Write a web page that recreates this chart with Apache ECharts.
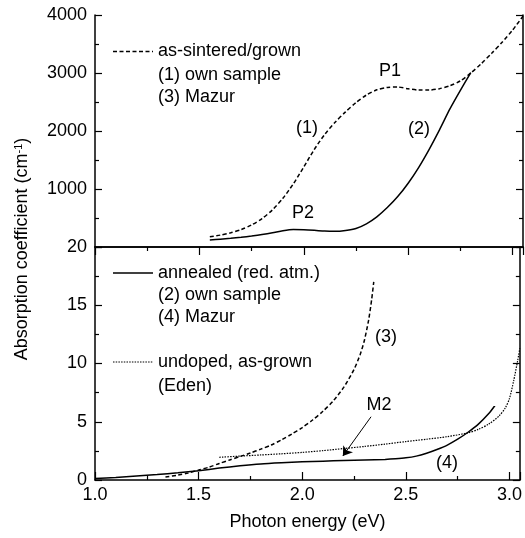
<!DOCTYPE html>
<html>
<head>
<meta charset="utf-8">
<script src="https://cdn.jsdelivr.net/npm/echarts@6.0.0/dist/echarts.min.js"></script>
<style>
  html, body { margin: 0; padding: 0; background: #fff; }
  #chart { width: 525px; height: 538px; }
</style>
</head>
<body>
<div id="chart"></div>
<script>
// photon energy (eV) / absorption coefficient
var ownSintered = [[1.55,177],[1.6,205],[1.65,245],[1.7,300],[1.75,380],[1.8,490],[1.85,640],
  [1.9,840],[1.95,1090],[2.0,1380],[2.05,1680],[2.1,1940],[2.15,2150],[2.2,2330],[2.25,2490],
  [2.3,2620],[2.35,2710],[2.4,2750],[2.45,2758],[2.5,2728],[2.55,2706],[2.6,2705],[2.65,2730],
  [2.7,2780],[2.75,2864],[2.8,3000],[2.85,3160],[2.9,3340],[2.95,3530],[3.0,3740],[3.05,3980]];
var ownAnnealed = [[1.55,120],[1.6,135],[1.65,150],[1.7,168],[1.75,190],[1.8,215],[1.85,245],
  [1.9,280],[1.95,300],[2.0,298],[2.05,288],[2.1,274],[2.15,270],[2.2,285],[2.25,320],[2.3,400],
  [2.35,520],[2.4,680],[2.45,870],[2.5,1100],[2.55,1370],[2.6,1680],[2.65,2020],[2.7,2380],
  [2.75,2700],[2.8,3006]];
var mazurGrown = [[1.34,0.25],[1.4,0.42],[1.45,0.6],[1.5,0.85],[1.55,1.1],[1.6,1.42],[1.65,1.72],
  [1.7,2.02],[1.75,2.32],[1.8,2.65],[1.85,3.0],[1.9,3.45],[1.95,3.95],[2.0,4.5],[2.05,5.15],
  [2.1,5.9],[2.15,6.8],[2.2,7.95],[2.25,9.5],[2.28,10.8],[2.3,12.0],[2.32,13.7],[2.335,15.5],[2.345,17.0]];
var mazurAnnealed = [[1.0,0.12],[1.1,0.22],[1.2,0.34],[1.3,0.47],[1.4,0.62],[1.5,0.8],[1.6,1.02],
  [1.7,1.22],[1.8,1.38],[1.9,1.48],[2.0,1.56],[2.1,1.62],[2.2,1.67],[2.3,1.72],[2.4,1.77],
  [2.45,1.82],[2.5,1.9],[2.55,2.05],[2.6,2.3],[2.65,2.62],[2.7,3.0],[2.75,3.5],[2.8,4.1],
  [2.85,4.8],[2.9,5.7],[2.93,6.4]];
var edenUndoped = [[1.6,1.95],[1.7,2.05],[1.8,2.15],[1.9,2.25],[2.0,2.37],[2.1,2.52],[2.2,2.7],
  [2.3,2.88],[2.4,3.08],[2.5,3.3],[2.6,3.5],[2.7,3.72],[2.8,4.05],[2.85,4.35],[2.9,4.8],
  [2.95,5.5],[2.98,6.2],[3.0,7.0],[3.02,8.5],[3.04,10.3],[3.05,11.3]];
var m2Arrow = [[2.332,5.43],[2.196,2.06]];

var FONT = 'Liberation Sans, Arial, Helvetica, sans-serif';

function xAxisBase(grid, pos) {
  return {
    type: 'value', gridIndex: grid, position: pos, min: 1.0, max: 3.05, interval: 0.5,
    axisLine: { show: true, lineStyle: { color: '#000', width: 1.5 } },
    axisTick: { show: true, inside: true, length: 8, lineStyle: { color: '#000', width: 1.2 } },
    minorTick: { show: true, splitNumber: 2, length: 4, lineStyle: { color: '#000', width: 1.2 } },
    axisLabel: { show: false },
    splitLine: { show: false }
  };
}

function yAxisBase(grid, pos, max, step) {
  return {
    type: 'value', gridIndex: grid, position: pos, min: 0, max: max, interval: step,
    axisLine: { show: true, lineStyle: { color: '#000', width: 1.5 } },
    axisTick: { show: true, inside: true, length: 7, lineStyle: { color: '#000', width: 1.2 } },
    minorTick: { show: true, splitNumber: 2, length: 4, lineStyle: { color: '#000', width: 1.2 } },
    axisLabel: { show: false },
    splitLine: { show: false }
  };
}

function txt(x, y, s, align) {
  return {
    type: 'text', x: x, y: y, silent: true,
    style: { text: s, fill: '#000', font: '18px ' + FONT, textAlign: align || 'left', textVerticalAlign: 'middle' }
  };
}

function legLine(y, dash, w) {
  return {
    type: 'line', silent: true,
    shape: { x1: 113, y1: y, x2: 153, y2: y },
    style: { stroke: '#000', lineWidth: w, lineDash: dash }
  };
}

function plain(v) { return String(v); }

var chart = echarts.init(document.getElementById('chart'));

var xTopBottom = xAxisBase(0, 'bottom');
xTopBottom.axisTick = { show: false };
xTopBottom.minorTick = { show: false };
var xTopTop = xAxisBase(0, 'top');
var xBottom = xAxisBase(1, 'bottom');
xBottom.axisLabel = {
  show: true, color: '#000', fontSize: 18, fontFamily: FONT, margin: 6, showMaxLabel: false,
  formatter: function (v) { return v.toFixed(1); }
};
xBottom.name = 'Photon energy (eV)';
xBottom.nameLocation = 'middle';
xBottom.nameGap = 33;
xBottom.nameTextStyle = { color: '#000', fontSize: 18, fontFamily: FONT };

var yTopLeft = yAxisBase(0, 'left', 4000, 1000);
yTopLeft.axisLabel = { show: true, showMinLabel: false, color: '#000', fontSize: 18, fontFamily: FONT, margin: 8, formatter: plain };
var yTopRight = yAxisBase(0, 'right', 4000, 1000);
var yBotLeft = yAxisBase(1, 'left', 20, 5);
yBotLeft.axisLabel = { show: true, color: '#000', fontSize: 18, fontFamily: FONT, margin: 8, formatter: plain };
var yBotRight = yAxisBase(1, 'right', 20, 5);

function lineSeries(data, xi, yi, type, width) {
  return {
    type: 'line', data: data, xAxisIndex: xi, yAxisIndex: yi,
    showSymbol: false, smooth: 0.25, silent: true,
    lineStyle: { color: '#000', width: width, type: type }
  };
}

var arrowSeries = lineSeries([], 2, 2, 'solid', 1);
arrowSeries.markLine = {
  silent: true, symbol: ['none', 'arrow'], symbolSize: 9,
  label: { show: false },
  lineStyle: { color: '#000', width: 1, type: 'solid' },
  data: [[{ coord: m2Arrow[0] }, { coord: m2Arrow[1] }]]
};

var option = {
  animation: false,
  backgroundColor: '#fff',
  grid: [
    { left: 95, right: 2, top: 15, height: 232 },
    { left: 95, right: 2, top: 247, height: 233 }
  ],
  xAxis: [xTopBottom, xTopTop, xBottom],
  yAxis: [yTopLeft, yTopRight, yBotLeft, yBotRight],
  series: [
    lineSeries(ownSintered, 0, 0, [4, 2.5], 1.5),
    lineSeries(ownAnnealed, 0, 0, 'solid', 1.5),
    lineSeries(mazurGrown, 2, 2, [4, 2.5], 1.5),
    lineSeries(mazurAnnealed, 2, 2, 'solid', 1.5),
    lineSeries(edenUndoped, 2, 2, [1.5, 1.2], 1.2),
    arrowSeries
  ],
  graphic: {
    elements: [
      legLine(51.5, [4, 2.5], 1.5),
      txt(158, 51.5, 'as-sintered/grown'),
      txt(158, 75, '(1) own sample'),
      txt(158, 97, '(3) Mazur'),
      txt(390, 71, 'P1', 'center'),
      txt(307, 128, '(1)', 'center'),
      txt(419, 129, '(2)', 'center'),
      txt(303, 213, 'P2', 'center'),
      legLine(273, null, 1.5),
      txt(158, 273, 'annealed (red. atm.)'),
      txt(158, 295, '(2) own sample'),
      txt(158, 317, '(4) Mazur'),
      legLine(362, [1.5, 1.2], 1.2),
      txt(158, 362, 'undoped, as-grown'),
      txt(158, 386, '(Eden)'),
      txt(386, 337, '(3)', 'center'),
      txt(379, 405, 'M2', 'center'),
      txt(447, 463, '(4)', 'center'),
      {
        type: 'text', x: 22, y: 249, rotation: Math.PI / 2, silent: true,
        style: {
          text: 'Absorption coefficient (cm{sup|-1})',
          fill: '#000', font: '18px ' + FONT,
          textAlign: 'center', textVerticalAlign: 'middle',
          rich: { sup: { fontSize: 11, fontFamily: FONT, verticalAlign: 'top', fill: '#000' } }
        }
      }
    ]
  }
};

chart.setOption(option);
</script>
</body>
</html>
